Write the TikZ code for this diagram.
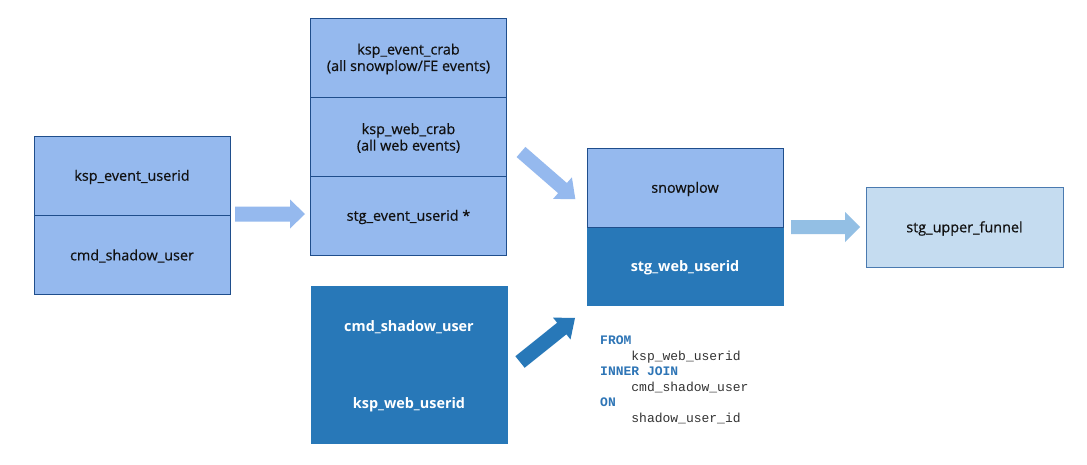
\documentclass[tikz,border=0pt]{standalone}
\usepackage{fontspec}
\setmainfont{Open Sans}
\setmonofont{Liberation Mono}
\newfontfamily\labelfont[FakeBold=0.5]{Open Sans}
\definecolor{lightc}{HTML}{95B9EE}
\definecolor{darkc}{HTML}{2878B8}
\definecolor{paleC}{HTML}{C5DCF0}
\definecolor{bordc}{HTML}{1F4E8C}
\definecolor{paleb}{HTML}{4A7AB0}
\definecolor{arrowpl}{HTML}{93BFE4}
\definecolor{txtc}{HTML}{111111}
\definecolor{kwc}{HTML}{2E75B6}
\definecolor{codec}{HTML}{333333}
% block arrow: start x, start y, angle, length, shaft half, head half, head length, colour
\newcommand\blockarrow[8]{%
  \begin{scope}[shift={(#1,#2)},rotate=#3]
    \fill[#8] (0,-#5) -- (#4-#7,-#5) -- (#4-#7,-#6) -- (#4,0)
      -- (#4-#7,#6) -- (#4-#7,#5) -- (0,#5) -- cycle;
  \end{scope}}
\begin{document}
\begin{tikzpicture}[x=1pt,y=-1pt,
  cell/.style={draw=bordc, line width=1pt, fill=lightc, minimum width=196pt,
    minimum height=79pt, inner sep=0pt, outer sep=0pt, align=center,
    text=txtc, font=\fontsize{14.4}{16.5}\selectfont\labelfont},
  darkcell/.style={draw=darkc, line width=0.6pt, fill=darkc, minimum width=196pt,
    minimum height=78.5pt, inner sep=0pt, outer sep=0pt, align=center,
    text=white, font=\fontsize{14.4}{16.5}\selectfont\bfseries},
  lbl/.style={inner sep=0pt, align=center, yshift=-1.5pt},
  codeline/.style={anchor=base west, inner sep=0pt, text=codec,
    font=\fontsize{13}{15.5}\selectfont\ttfamily},
  kw/.style={codeline, text=kwc, font=\fontsize{13}{15.5}\selectfont\ttfamily\bfseries}]
\useasboundingbox (0,0) rectangle (1087,464);
\fill[white] (0,0) rectangle (1087,464);

% source tables
\node[cell] (evuser) at (132,175.5) {};
\node[cell] (cmdsh) at (132,254.5) {};

% staging stack
\node[cell] (evcrab) at (408.5,57.5) {};
\node[cell] (webcrab) at (408.5,136.5) {};
\node[cell] (stgev) at (408.5,215.5) {};

% joined inputs
\node[darkcell] (cmddk) at (409,325.25) {};
\node[darkcell] (webdk) at (409,403.75) {};

% combined output
\node[darkcell] (stgweb) at (685,266.5) {};
\node[cell] (snow) at (685,187.5) {};

% final model
\node[cell, fill=paleC, draw=paleb, minimum width=197pt, minimum height=80pt] (funnel) at (964.5,227) {};

% labels inside the boxes
\begin{scope}[every node/.style={lbl, text=txtc, font=\fontsize{14.4}{16.5}\selectfont\labelfont}]
\node (tevuser) at (evuser) {ksp\_event\_userid};
\node (tcmdsh) at (cmdsh) {cmd\_shadow\_user};
\node (tevcrab) at (evcrab) {ksp\_event\_crab\\(all snowplow/FE events)};
\node (twebcrab) at (webcrab) {ksp\_web\_crab\\(all web events)};
\node (tstgev) at (stgev) {stg\_event\_userid *};
\node (tsnow) at (snow) {snowplow};
\node (tfunnel) at (funnel) {stg\_upper\_funnel};
\end{scope}
\begin{scope}[every node/.style={lbl, text=white, font=\fontsize{14.4}{16.5}\selectfont\bfseries}]
\node (tcmddk) at (cmddk) {cmd\_shadow\_user};
\node (twebdk) at (webdk) {ksp\_web\_userid};
\node (tstgweb) at (stgweb) {stg\_web\_userid};
\end{scope}

% flow arrows
\blockarrow{235}{214}{0}{70}{7.5}{14.5}{15}{lightc}
\blockarrow{521}{152}{-41}{72}{6.7}{14.3}{17}{lightc}
\blockarrow{520}{362}{38.7}{70.5}{7.4}{14}{17}{darkc}
\blockarrow{791}{227}{0}{69}{7}{15}{15}{arrowpl}

% join condition
\node[kw] (l1) at (600,344.5) {FROM};
\node[codeline] (l2) at (600,360) {\ \ \ \ ksp\_web\_userid};
\node[kw] (l3) at (600,375.5) {INNER JOIN};
\node[codeline] (l4) at (600,391) {\ \ \ \ cmd\_shadow\_user};
\node[kw] (l5) at (600,406.5) {ON};
\node[codeline] (l6) at (600,422) {\ \ \ \ shadow\_user\_id};
\end{tikzpicture}
\end{document}
